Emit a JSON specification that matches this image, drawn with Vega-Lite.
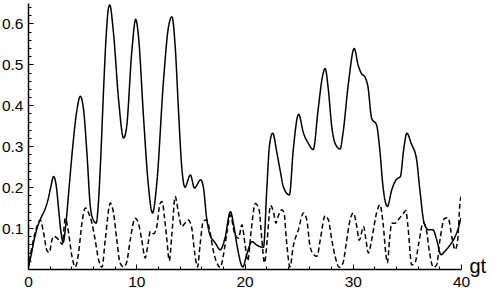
{
  "$schema": "https://vega.github.io/schema/vega-lite/v6.json",
  "width": 433,
  "height": 266,
  "autosize": "none",
  "padding": {"left": 28, "top": 3, "right": 34, "bottom": 20},
  "background": "white",
  "config": {
    "view": {"stroke": null},
    "axis": {
      "grid": false,
      "domainColor": "black",
      "domainWidth": 1.5,
      "tickColor": "black",
      "tickWidth": 1,
      "labelColor": "black",
      "labelFont": "Liberation Sans",
      "labelFontSize": 15.5,
      "labelFlush": false,
      "labelOverlap": false
    }
  },
  "datasets": {
    "curves": [
      {"x": 0, "y": 0, "s": "solid"},
      {"x": 0.3, "y": 0.035, "s": "solid"},
      {"x": 0.6, "y": 0.075, "s": "solid"},
      {"x": 0.9, "y": 0.105, "s": "solid"},
      {"x": 1.2, "y": 0.125, "s": "solid"},
      {"x": 1.6, "y": 0.148, "s": "solid"},
      {"x": 1.9, "y": 0.175, "s": "solid"},
      {"x": 2.1, "y": 0.2, "s": "solid"},
      {"x": 2.37, "y": 0.226, "s": "solid"},
      {"x": 2.6, "y": 0.205, "s": "solid"},
      {"x": 2.85, "y": 0.14, "s": "solid"},
      {"x": 3.0, "y": 0.1, "s": "solid"},
      {"x": 3.25, "y": 0.065, "s": "solid"},
      {"x": 3.5, "y": 0.11, "s": "solid"},
      {"x": 3.8, "y": 0.2, "s": "solid"},
      {"x": 4.1, "y": 0.29, "s": "solid"},
      {"x": 4.5, "y": 0.385, "s": "solid"},
      {"x": 4.83, "y": 0.422, "s": "solid"},
      {"x": 5.13, "y": 0.39, "s": "solid"},
      {"x": 5.44, "y": 0.285, "s": "solid"},
      {"x": 5.75, "y": 0.155, "s": "solid"},
      {"x": 6.0, "y": 0.122, "s": "solid"},
      {"x": 6.3, "y": 0.112, "s": "solid"},
      {"x": 6.5, "y": 0.16, "s": "solid"},
      {"x": 6.7, "y": 0.26, "s": "solid"},
      {"x": 7.0, "y": 0.45, "s": "solid"},
      {"x": 7.2, "y": 0.56, "s": "solid"},
      {"x": 7.45, "y": 0.64, "s": "solid"},
      {"x": 7.55, "y": 0.645, "s": "solid"},
      {"x": 7.9, "y": 0.576, "s": "solid"},
      {"x": 8.37, "y": 0.413, "s": "solid"},
      {"x": 8.83, "y": 0.32, "s": "solid"},
      {"x": 9.1, "y": 0.345, "s": "solid"},
      {"x": 9.6, "y": 0.535, "s": "solid"},
      {"x": 9.95, "y": 0.61, "s": "solid"},
      {"x": 10.2, "y": 0.57, "s": "solid"},
      {"x": 10.67, "y": 0.372, "s": "solid"},
      {"x": 11.1, "y": 0.21, "s": "solid"},
      {"x": 11.5, "y": 0.137, "s": "solid"},
      {"x": 11.9, "y": 0.21, "s": "solid"},
      {"x": 12.5, "y": 0.454, "s": "solid"},
      {"x": 12.98, "y": 0.592, "s": "solid"},
      {"x": 13.3, "y": 0.616, "s": "solid"},
      {"x": 13.6, "y": 0.543, "s": "solid"},
      {"x": 13.9, "y": 0.389, "s": "solid"},
      {"x": 14.2, "y": 0.25, "s": "solid"},
      {"x": 14.5, "y": 0.2, "s": "solid"},
      {"x": 15.0, "y": 0.23, "s": "solid"},
      {"x": 15.38, "y": 0.198, "s": "solid"},
      {"x": 15.95, "y": 0.218, "s": "solid"},
      {"x": 16.2, "y": 0.2, "s": "solid"},
      {"x": 16.5, "y": 0.125, "s": "solid"},
      {"x": 16.8, "y": 0.084, "s": "solid"},
      {"x": 17.3, "y": 0.064, "s": "solid"},
      {"x": 17.76, "y": 0.047, "s": "solid"},
      {"x": 18.2, "y": 0.076, "s": "solid"},
      {"x": 18.7, "y": 0.14, "s": "solid"},
      {"x": 19.0, "y": 0.108, "s": "solid"},
      {"x": 19.3, "y": 0.059, "s": "solid"},
      {"x": 19.85, "y": 0.005, "s": "solid"},
      {"x": 20.2, "y": 0.035, "s": "solid"},
      {"x": 20.7, "y": 0.067, "s": "solid"},
      {"x": 21.1, "y": 0.059, "s": "solid"},
      {"x": 21.75, "y": 0.053, "s": "solid"},
      {"x": 22.07, "y": 0.2, "s": "solid"},
      {"x": 22.3, "y": 0.3, "s": "solid"},
      {"x": 22.6, "y": 0.332, "s": "solid"},
      {"x": 23.0, "y": 0.283, "s": "solid"},
      {"x": 23.3, "y": 0.24, "s": "solid"},
      {"x": 23.6, "y": 0.2, "s": "solid"},
      {"x": 24.15, "y": 0.181, "s": "solid"},
      {"x": 24.5, "y": 0.29, "s": "solid"},
      {"x": 25.0, "y": 0.378, "s": "solid"},
      {"x": 25.45, "y": 0.332, "s": "solid"},
      {"x": 25.9, "y": 0.307, "s": "solid"},
      {"x": 26.35, "y": 0.292, "s": "solid"},
      {"x": 26.8, "y": 0.389, "s": "solid"},
      {"x": 27.2, "y": 0.47, "s": "solid"},
      {"x": 27.45, "y": 0.49, "s": "solid"},
      {"x": 27.75, "y": 0.437, "s": "solid"},
      {"x": 28.06, "y": 0.348, "s": "solid"},
      {"x": 28.37, "y": 0.307, "s": "solid"},
      {"x": 28.83, "y": 0.293, "s": "solid"},
      {"x": 29.1, "y": 0.332, "s": "solid"},
      {"x": 29.6, "y": 0.454, "s": "solid"},
      {"x": 30.14, "y": 0.539, "s": "solid"},
      {"x": 30.5, "y": 0.498, "s": "solid"},
      {"x": 30.8, "y": 0.478, "s": "solid"},
      {"x": 31.15, "y": 0.468, "s": "solid"},
      {"x": 31.4, "y": 0.446, "s": "solid"},
      {"x": 31.75, "y": 0.368, "s": "solid"},
      {"x": 32.2, "y": 0.352, "s": "solid"},
      {"x": 32.5, "y": 0.291, "s": "solid"},
      {"x": 32.8, "y": 0.2, "s": "solid"},
      {"x": 33.2, "y": 0.153, "s": "solid"},
      {"x": 33.6, "y": 0.193, "s": "solid"},
      {"x": 34.0, "y": 0.218, "s": "solid"},
      {"x": 34.4, "y": 0.226, "s": "solid"},
      {"x": 34.7, "y": 0.291, "s": "solid"},
      {"x": 35.0, "y": 0.332, "s": "solid"},
      {"x": 35.4, "y": 0.307, "s": "solid"},
      {"x": 35.9, "y": 0.267, "s": "solid"},
      {"x": 36.2, "y": 0.193, "s": "solid"},
      {"x": 36.6, "y": 0.112, "s": "solid"},
      {"x": 37.0, "y": 0.096, "s": "solid"},
      {"x": 37.4, "y": 0.096, "s": "solid"},
      {"x": 37.75, "y": 0.072, "s": "solid"},
      {"x": 38.15, "y": 0.035, "s": "solid"},
      {"x": 38.5, "y": 0.043, "s": "solid"},
      {"x": 39.0, "y": 0.059, "s": "solid"},
      {"x": 39.4, "y": 0.076, "s": "solid"},
      {"x": 39.8, "y": 0.104, "s": "solid"},
      {"x": 40.0, "y": 0.125, "s": "solid"},

      {"x": 0, "y": 0, "s": "dashed"},
      {"x": 0.37, "y": 0.055, "s": "dashed"},
      {"x": 0.83, "y": 0.104, "s": "dashed"},
      {"x": 1.14, "y": 0.12, "s": "dashed"},
      {"x": 1.44, "y": 0.088, "s": "dashed"},
      {"x": 1.75, "y": 0.045, "s": "dashed"},
      {"x": 1.97, "y": 0.04, "s": "dashed"},
      {"x": 2.2, "y": 0.07, "s": "dashed"},
      {"x": 2.4, "y": 0.08, "s": "dashed"},
      {"x": 2.7, "y": 0.075, "s": "dashed"},
      {"x": 2.9, "y": 0.07, "s": "dashed"},
      {"x": 3.15, "y": 0.06, "s": "dashed"},
      {"x": 3.45, "y": 0.124, "s": "dashed"},
      {"x": 3.75, "y": 0.088, "s": "dashed"},
      {"x": 4.06, "y": 0.031, "s": "dashed"},
      {"x": 4.37, "y": 0.005, "s": "dashed"},
      {"x": 4.67, "y": 0.039, "s": "dashed"},
      {"x": 4.98, "y": 0.112, "s": "dashed"},
      {"x": 5.3, "y": 0.149, "s": "dashed"},
      {"x": 5.6, "y": 0.137, "s": "dashed"},
      {"x": 5.9, "y": 0.112, "s": "dashed"},
      {"x": 6.2, "y": 0.072, "s": "dashed"},
      {"x": 6.52, "y": 0.023, "s": "dashed"},
      {"x": 6.83, "y": 0.004, "s": "dashed"},
      {"x": 7.14, "y": 0.072, "s": "dashed"},
      {"x": 7.6, "y": 0.161, "s": "dashed"},
      {"x": 7.9, "y": 0.137, "s": "dashed"},
      {"x": 8.2, "y": 0.072, "s": "dashed"},
      {"x": 8.5, "y": 0.015, "s": "dashed"},
      {"x": 8.83, "y": 0.005, "s": "dashed"},
      {"x": 9.1, "y": 0.015, "s": "dashed"},
      {"x": 9.45, "y": 0.072, "s": "dashed"},
      {"x": 9.9, "y": 0.124, "s": "dashed"},
      {"x": 10.2, "y": 0.112, "s": "dashed"},
      {"x": 10.5, "y": 0.072, "s": "dashed"},
      {"x": 10.83, "y": 0.027, "s": "dashed"},
      {"x": 11.1, "y": 0.063, "s": "dashed"},
      {"x": 11.3, "y": 0.092, "s": "dashed"},
      {"x": 11.6, "y": 0.086, "s": "dashed"},
      {"x": 11.9, "y": 0.104, "s": "dashed"},
      {"x": 12.2, "y": 0.16, "s": "dashed"},
      {"x": 12.4, "y": 0.165, "s": "dashed"},
      {"x": 12.6, "y": 0.128, "s": "dashed"},
      {"x": 12.83, "y": 0.072, "s": "dashed"},
      {"x": 13.05, "y": 0.02, "s": "dashed"},
      {"x": 13.3, "y": 0.088, "s": "dashed"},
      {"x": 13.6, "y": 0.177, "s": "dashed"},
      {"x": 13.9, "y": 0.137, "s": "dashed"},
      {"x": 14.2, "y": 0.104, "s": "dashed"},
      {"x": 14.5, "y": 0.112, "s": "dashed"},
      {"x": 14.8, "y": 0.12, "s": "dashed"},
      {"x": 15.1, "y": 0.104, "s": "dashed"},
      {"x": 15.4, "y": 0.039, "s": "dashed"},
      {"x": 15.66, "y": 0.005, "s": "dashed"},
      {"x": 15.9, "y": 0.06, "s": "dashed"},
      {"x": 16.2, "y": 0.118, "s": "dashed"},
      {"x": 16.5, "y": 0.12, "s": "dashed"},
      {"x": 16.83, "y": 0.088, "s": "dashed"},
      {"x": 17.1, "y": 0.047, "s": "dashed"},
      {"x": 17.4, "y": 0.018, "s": "dashed"},
      {"x": 17.76, "y": 0.004, "s": "dashed"},
      {"x": 18.06, "y": 0.035, "s": "dashed"},
      {"x": 18.37, "y": 0.088, "s": "dashed"},
      {"x": 18.7, "y": 0.132, "s": "dashed"},
      {"x": 19.1, "y": 0.085, "s": "dashed"},
      {"x": 19.45, "y": 0.075, "s": "dashed"},
      {"x": 19.76, "y": 0.108, "s": "dashed"},
      {"x": 20.05, "y": 0.06, "s": "dashed"},
      {"x": 20.3, "y": 0.02, "s": "dashed"},
      {"x": 20.6, "y": 0.09, "s": "dashed"},
      {"x": 21.0, "y": 0.16, "s": "dashed"},
      {"x": 21.35, "y": 0.145, "s": "dashed"},
      {"x": 21.6, "y": 0.072, "s": "dashed"},
      {"x": 21.85, "y": 0.015, "s": "dashed"},
      {"x": 22.1, "y": 0.072, "s": "dashed"},
      {"x": 22.4, "y": 0.155, "s": "dashed"},
      {"x": 22.7, "y": 0.137, "s": "dashed"},
      {"x": 22.9, "y": 0.112, "s": "dashed"},
      {"x": 23.1, "y": 0.128, "s": "dashed"},
      {"x": 23.45, "y": 0.145, "s": "dashed"},
      {"x": 23.65, "y": 0.137, "s": "dashed"},
      {"x": 23.9, "y": 0.063, "s": "dashed"},
      {"x": 24.2, "y": 0.005, "s": "dashed"},
      {"x": 24.5, "y": 0.055, "s": "dashed"},
      {"x": 24.98, "y": 0.096, "s": "dashed"},
      {"x": 25.45, "y": 0.137, "s": "dashed"},
      {"x": 25.75, "y": 0.12, "s": "dashed"},
      {"x": 26.06, "y": 0.055, "s": "dashed"},
      {"x": 26.4, "y": 0.035, "s": "dashed"},
      {"x": 26.7, "y": 0.031, "s": "dashed"},
      {"x": 27.0, "y": 0.072, "s": "dashed"},
      {"x": 27.45, "y": 0.13, "s": "dashed"},
      {"x": 27.75, "y": 0.12, "s": "dashed"},
      {"x": 28.06, "y": 0.072, "s": "dashed"},
      {"x": 28.37, "y": 0.031, "s": "dashed"},
      {"x": 28.75, "y": 0.004, "s": "dashed"},
      {"x": 29.1, "y": 0.015, "s": "dashed"},
      {"x": 29.4, "y": 0.063, "s": "dashed"},
      {"x": 29.75, "y": 0.12, "s": "dashed"},
      {"x": 30.06, "y": 0.137, "s": "dashed"},
      {"x": 30.37, "y": 0.104, "s": "dashed"},
      {"x": 30.6, "y": 0.07, "s": "dashed"},
      {"x": 31.0, "y": 0.104, "s": "dashed"},
      {"x": 31.2, "y": 0.075, "s": "dashed"},
      {"x": 31.45, "y": 0.039, "s": "dashed"},
      {"x": 31.75, "y": 0.072, "s": "dashed"},
      {"x": 32.2, "y": 0.137, "s": "dashed"},
      {"x": 32.5, "y": 0.157, "s": "dashed"},
      {"x": 32.8, "y": 0.112, "s": "dashed"},
      {"x": 33.05, "y": 0.039, "s": "dashed"},
      {"x": 33.2, "y": 0.015, "s": "dashed"},
      {"x": 33.4, "y": 0.072, "s": "dashed"},
      {"x": 33.6, "y": 0.112, "s": "dashed"},
      {"x": 33.9, "y": 0.112, "s": "dashed"},
      {"x": 34.2, "y": 0.12, "s": "dashed"},
      {"x": 34.7, "y": 0.137, "s": "dashed"},
      {"x": 34.9, "y": 0.143, "s": "dashed"},
      {"x": 35.1, "y": 0.104, "s": "dashed"},
      {"x": 35.45, "y": 0.01, "s": "dashed"},
      {"x": 35.75, "y": 0.015, "s": "dashed"},
      {"x": 36.1, "y": 0.063, "s": "dashed"},
      {"x": 36.5, "y": 0.113, "s": "dashed"},
      {"x": 36.8, "y": 0.096, "s": "dashed"},
      {"x": 37.1, "y": 0.039, "s": "dashed"},
      {"x": 37.45, "y": 0.004, "s": "dashed"},
      {"x": 37.75, "y": 0.01, "s": "dashed"},
      {"x": 38.06, "y": 0.072, "s": "dashed"},
      {"x": 38.5, "y": 0.124, "s": "dashed"},
      {"x": 38.8, "y": 0.125, "s": "dashed"},
      {"x": 39.2, "y": 0.072, "s": "dashed"},
      {"x": 39.45, "y": 0.047, "s": "dashed"},
      {"x": 39.7, "y": 0.072, "s": "dashed"},
      {"x": 39.9, "y": 0.16, "s": "dashed"},
      {"x": 40.0, "y": 0.177, "s": "dashed"}
    ]
  },
  "data": {"name": "curves"},
  "mark": {"type": "line", "interpolate": "monotone", "color": "black", "strokeWidth": 1.5, "clip": true},
  "encoding": {
    "x": {
      "field": "x",
      "type": "quantitative",
      "scale": {"domain": [0, 40], "nice": false, "zero": false},
      "axis": {
        "title": "gt",
        "titleX": 441,
        "titleY": 3,
        "titleAlign": "left",
        "titleAnchor": null,
        "titleBaseline": "alphabetic",
        "titleFont": "Liberation Sans",
        "titleFontSize": 20,
        "titleFontWeight": "normal",
        "titleColor": "black",
        "values": [0, 2, 4, 6, 8, 10, 12, 14, 16, 18, 20, 22, 24, 26, 28, 30, 32, 34, 36, 38, 40],
        "format": "d",
        "labelExpr": "datum.value % 10 === 0 ? datum.label : ''",
        "tickSize": {"condition": {"test": "datum.value % 10 === 0", "value": -5}, "value": -3},
        "labelPadding": 10
      }
    },
    "y": {
      "field": "y",
      "type": "quantitative",
      "scale": {"domain": [0, 0.65], "nice": false},
      "axis": {
        "title": null,
        "values": [0.02, 0.04, 0.06, 0.08, 0.1, 0.12, 0.14, 0.16, 0.18, 0.2, 0.22, 0.24, 0.26, 0.28, 0.3, 0.32, 0.34, 0.36, 0.38, 0.4, 0.42, 0.44, 0.46, 0.48, 0.5, 0.52, 0.54, 0.56, 0.58, 0.6, 0.62, 0.64],
        "format": ".1f",
        "labelExpr": "abs(datum.value * 10 - round(datum.value * 10)) < 0.001 ? datum.label : ''",
        "tickSize": {"condition": {"test": "abs(datum.value * 10 - round(datum.value * 10)) < 0.001", "value": -5}, "value": -3},
        "labelPadding": 10
      }
    },
    "strokeDash": {
      "field": "s",
      "type": "nominal",
      "scale": {"domain": ["solid", "dashed"], "range": [[1, 0], [5, 3]]},
      "legend": null
    }
  }
}
